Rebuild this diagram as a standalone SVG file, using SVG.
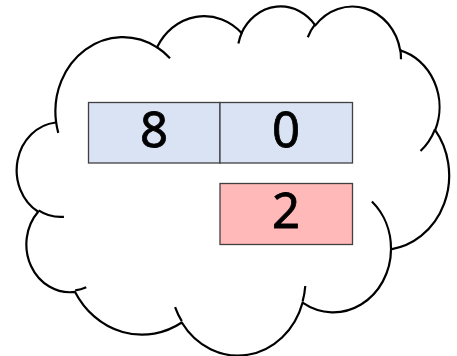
<svg xmlns="http://www.w3.org/2000/svg" width="457" height="356" viewBox="0 0 457 356">
  <style>
    .cloud { fill: #ffffff; stroke: #000000; stroke-width: 2.2; stroke-linejoin: round; }
    .stub { fill: none; stroke: #000000; stroke-width: 2.2; stroke-linecap: butt; }
    .cell { stroke: #404040; stroke-width: 1.3; }
    .blue { fill: #dae3f3; }
    .pink { fill: #ffb9b9; }
    .digit { font-family: "Noto Sans", "DejaVu Sans", sans-serif; font-size: 49px; fill: #000000; stroke: #000000; stroke-width: 0.8; text-anchor: middle; }
  </style>
  <rect width="457" height="356" fill="#ffffff"/>
  <g id="cloud">
    <path class="cloud" d="M56,121.39 A67.53,74.24 0 0 1 157.05,47.33 A53.33,58.71 0 0 1 241.56,33.04 A43.65,48.03 0 0 1 315.33,25.36 A48.57,53.28 0 0 1 400.18,50.37 A53.33,58.76 0 0 1 435.18,130.22 A67.75,74.49 0 0 1 391.02,249.31 A57.85,63.56 0 0 1 302.54,302.71 A67.52,74.45 0 0 1 181.79,322.53 A77.2,85.17 0 0 1 75.05,291.89 A43.6,47.81 0 0 1 38.14,211.72 A43.45,48.03 0 0 1 55.64,122.5 Z"/>
    <path class="stub" d="M63.93,216.78 A43.45,48.03 0 0 1 38.6,210.34 M86.28,287.24 A43.6,47.81 0 0 1 75.2,290.32 M181.78,321.1 A67.52,74.45 0 0 1 175.1,307.02 M305.27,286.04 A67.52,74.45 0 0 1 302.6,301.47 M371.89,201.57 A57.85,63.56 0 0 1 391.03,249.31 M434.98,129.34 A53.33,58.76 0 0 1 420.51,150.95 M400.24,49.13 A48.57,53.28 0 0 1 401,59.34 M307.78,37.23 A48.57,53.28 0 0 1 315.2,24.2 M238.41,43.43 A43.65,48.03 0 0 1 242,32.21 M157,47.24 A67.53,74.24 0 0 1 169.99,58.13 M58.27,132.85 A67.53,74.24 0 0 1 56,121.39"/>
  </g>
  <g id="connectors"/>
  <g id="cell-8">
    <rect class="cell blue" x="88.5" y="102.5" width="131.5" height="60.5"/>
    <text class="digit" x="154" y="146.5">8</text>
  </g>
  <g id="cell-0">
    <rect class="cell blue" x="220" y="102.5" width="132.5" height="60.5"/>
    <text class="digit" x="286" y="146.5">0</text>
  </g>
  <g id="cell-2">
    <rect class="cell pink" x="220" y="183.5" width="132.5" height="61"/>
    <text class="digit" x="286" y="228">2</text>
  </g>
</svg>
